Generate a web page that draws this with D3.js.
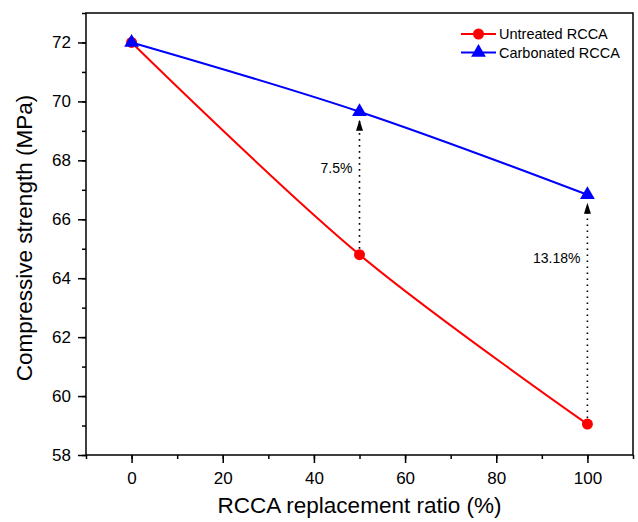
<!DOCTYPE html>
<html>
<head>
<meta charset="utf-8">
<script src="https://cdn.jsdelivr.net/npm/d3@7"></script>
<style>
  body { margin: 0; background: #fff; }
  text { font-family: "Liberation Sans", Arial, sans-serif; }
</style>
</head>
<body>
<svg id="chart" width="638" height="522"></svg>
<script>
var ratios = [0, 50, 100];
var untreated = [72, 64.8, 59.05];
var carbonated = [72, 69.65, 66.83];
var gainLabels = ['', '7.5%', '13.18%'];
var gainLabelAt = [null, 67.75, 64.7];   // strength level where each gain label sits
var xTicks = [0, 20, 40, 60, 80, 100];
var yTicks = [58, 60, 62, 64, 66, 68, 70, 72];

var svg = d3.select('#chart');
var plotLeft = 86, plotRight = 633, plotTop = 13, plotBottom = 455;

var x = d3.scaleLinear().domain([-10, 110]).range([plotLeft, plotRight]);
var y = d3.scaleLinear().domain([58, 73]).range([plotBottom, plotTop]);

// frame
svg.append('rect')
  .attr('x', plotLeft).attr('y', plotTop)
  .attr('width', plotRight - plotLeft).attr('height', plotBottom - plotTop)
  .attr('fill', 'none').attr('stroke', '#000').attr('stroke-width', 1.5);

// axes
function styleAxis(g) {
  g.select('.domain').remove();
  g.selectAll('line').attr('stroke', '#000').attr('stroke-width', 1.5);
  g.selectAll('text').attr('font-size', 17).attr('fill', '#000')
    .style('font-family', '"Liberation Sans", Arial, sans-serif');
}

svg.append('g').attr('transform', 'translate(0,' + plotBottom + ')')
  .call(d3.axisBottom(x).tickValues(d3.range(-10, 111, 10)).tickFormat('').tickSize(4))
  .call(styleAxis);
svg.append('g').attr('transform', 'translate(0,' + plotBottom + ')')
  .call(d3.axisBottom(x).tickValues(xTicks).tickSize(8).tickPadding(9))
  .call(styleAxis);

svg.append('g').attr('transform', 'translate(' + plotLeft + ',0)')
  .call(d3.axisLeft(y).tickValues(d3.range(58, 73.1, 1)).tickFormat('').tickSize(4))
  .call(styleAxis);
svg.append('g').attr('transform', 'translate(' + plotLeft + ',0)')
  .call(d3.axisLeft(y).tickValues(yTicks).tickSize(8).tickPadding(7))
  .call(styleAxis);

// titles
svg.append('text')
  .attr('x', (plotLeft + plotRight) / 2).attr('y', 513)
  .attr('text-anchor', 'middle').attr('font-size', 22.5)
  .text('RCCA replacement ratio (%)');
svg.append('text')
  .attr('transform', 'translate(32,' + ((plotTop + plotBottom) / 2 + 4) + ') rotate(-90)')
  .attr('text-anchor', 'middle').attr('font-size', 22.5)
  .text('Compressive strength (MPa)');

// arrow marker
svg.append('defs').append('marker')
  .attr('id', 'arrow').attr('viewBox', '0 0 10 10')
  .attr('refX', 10).attr('refY', 5)
  .attr('markerWidth', 11).attr('markerHeight', 7)
  .attr('preserveAspectRatio', 'none')
  .attr('markerUnits', 'userSpaceOnUse')
  .attr('orient', 'auto')
  .append('path').attr('d', 'M0,0 L10,5 L0,10 Z').attr('fill', '#000');

// gain arrows
ratios.forEach(function(r, i) {
  if (!gainLabels[i]) return;
  svg.append('line')
    .attr('x1', x(r)).attr('x2', x(r))
    .attr('y1', y(untreated[i]) - 6).attr('y2', y(carbonated[i]) + 8)
    .attr('stroke', '#000').attr('stroke-width', 1.6)
    .attr('stroke-dasharray', '1.6,4.4')
    .attr('marker-end', 'url(#arrow)');
  svg.append('text')
    .attr('x', x(r) - 7).attr('y', y(gainLabelAt[i]) + 5)
    .attr('text-anchor', 'end').attr('font-size', 14)
    .text(gainLabels[i]);
});

var line = d3.line().curve(d3.curveCatmullRom.alpha(0.5))
  .x(function(d) { return x(d[0]); })
  .y(function(d) { return y(d[1]); });

var series = [
  { name: 'Untreated RCCA', values: untreated, color: '#ff0000', shape: 'circle' },
  { name: 'Carbonated RCCA', values: carbonated, color: '#0000ff', shape: 'triangle' }
];

function drawMarker(g, s, cx, cy) {
  if (s.shape === 'circle') {
    g.append('circle').attr('cx', cx).attr('cy', cy).attr('r', 5.5).attr('fill', s.color);
  } else {
    g.append('path')
      .attr('transform', 'translate(' + cx + ',' + cy + ')')
      .attr('d', d3.symbol().type(d3.symbolTriangle).size(95)())
      .attr('fill', s.color);
  }
}

series.forEach(function(s) {
  var pts = ratios.map(function(r, i) { return [r, s.values[i]]; });
  svg.append('path').datum(pts)
    .attr('d', line).attr('fill', 'none')
    .attr('stroke', s.color).attr('stroke-width', 2);
  var g = svg.append('g');
  pts.forEach(function(p) { drawMarker(g, s, x(p[0]), y(p[1])); });
});

// legend
series.forEach(function(s, i) {
  var ly = 34 + i * 18.5;
  var g = svg.append('g');
  g.append('line').attr('x1', 461).attr('x2', 496).attr('y1', ly).attr('y2', ly)
    .attr('stroke', s.color).attr('stroke-width', 2);
  drawMarker(g, s, 478.5, ly);
  g.append('text').attr('x', 499).attr('y', ly + 5).attr('font-size', 14.5).text(s.name);
});
</script>
</body>
</html>
